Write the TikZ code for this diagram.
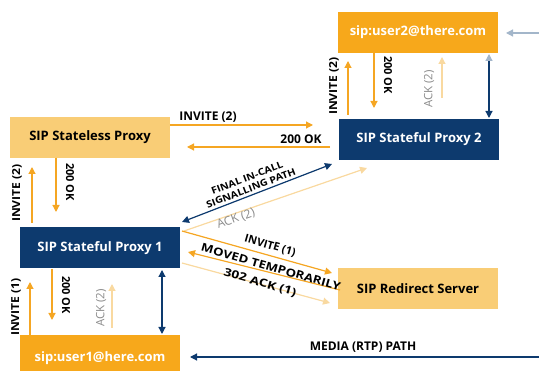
\documentclass[tikz,border=0pt]{standalone}
\usepackage{fontspec}
\setmainfont{Open Sans}
\usetikzlibrary{arrows.meta}
\definecolor{navy}{HTML}{0D3A6E}
\definecolor{org}{HTML}{F7A81B}
\definecolor{lorg}{HTML}{F9CD76}
\definecolor{aorg}{HTML}{F5A623}
\definecolor{porg}{HTML}{F9D9A0}
\definecolor{lblue}{HTML}{A3B6CA}
\definecolor{gtxt}{HTML}{8A8A8A}
\newcommand{\fsz}[1]{\fontsize{#1}{#1}\selectfont}
\tikzset{
  box/.style={minimum width=160pt,minimum height=41pt,inner sep=0pt,font=\bfseries\fsz{13}},
  navybox/.style={box,fill=navy,text=white},
  orgbox/.style={box,fill=org,text=white},
  lbox/.style={box,fill=lorg,text=black},
  tip/.style={-{Triangle[length=7pt,width=7pt]}},
  oarr/.style={tip,draw=aorg,fill=aorg,line width=1.2pt},
  parr/.style={tip,draw=porg,fill=porg,line width=1.2pt},
  narr/.style={{Triangle[length=7pt,width=7pt]}-{Triangle[length=7pt,width=7pt]},draw=navy,fill=navy,line width=1.2pt},
  hl/.style={font=\bfseries\fsz{12},inner sep=0pt,text=black},
  vl/.style={font=\bfseries\fsz{11},inner sep=0pt,text=black},
  gl/.style={font=\fsz{11.5},inner sep=0pt,text=gtxt},
  dl/.style={font=\bfseries\fsz{11},inner sep=0pt,text=black},
}
\begin{document}
\begin{tikzpicture}[x=1pt,y=-1pt]
\useasboundingbox (0,0) rectangle (539,371);
% boxes
\node[orgbox] (u2) at (418,32.5) {sip:user2@there.com};
\node[lbox] (slp) at (90,137.5) {SIP Stateless Proxy};
\node[navybox] (sp2) at (419,139.5) {SIP Stateful Proxy 2};
\node[navybox] (sp1) at (100,248) {SIP Stateful Proxy 1};
\node[lbox] (rs) at (418,289) {SIP Redirect Server};
\fill[org] (20,335) rectangle (180,371);
\node[box,minimum height=0pt,text=white] (u1) at (100,358) {sip:user1@here.com};
% horizontal between stateless and SP2
\coordinate (h1s) at (170,125); \coordinate (h1e) at (313,125);
\draw[oarr] (h1s) -- (h1e);
\node[hl] (l1) at (208,117) {INVITE (2)};
\coordinate (h2s) at (330,147); \coordinate (h2e) at (187,147);
\draw[oarr] (h2s) -- (h2e);
\node[hl] (l2) at (301,139) {200 OK};
% SP2 <-> user2
\coordinate (a1s) at (348,115); \coordinate (a1e) at (348,61);
\draw[oarr] (a1s) -- (a1e);
\node[vl,rotate=90,xscale=1.1] (l3) at (334,86) {INVITE (2)};
\coordinate (a2s) at (374,53); \coordinate (a2e) at (374,108);
\draw[oarr] (a2s) -- (a2e);
\node[vl,rotate=-90] (l4) at (388,75) {200 OK};
\coordinate (a3s) at (442,98); \coordinate (a3e) at (442,57);
\draw[parr] (a3s) -- (a3e);
\node[gl,rotate=90] (l5) at (429,89) {ACK (2)};
\coordinate (a4s) at (489,54); \coordinate (a4e) at (489,118);
\draw[line width=1.2pt,draw=navy,{Triangle[length=7pt,width=7pt,color=lblue]}-{Triangle[length=7pt,width=7pt,color=navy]}] (a4s) -- (a4e);
\coordinate (a5s) at (539,33); \coordinate (a5e) at (506,33);
\draw[tip,draw=lblue,fill=lblue,line width=1.2pt] (a5s) -- (a5e);
% stateless <-> SP1
\coordinate (b1s) at (56,158); \coordinate (b1e) at (56,212);
\draw[oarr] (b1s) -- (b1e);
\node[vl,rotate=-90] (l6) at (70,182) {200 OK};
\coordinate (b2s) at (32,223); \coordinate (b2e) at (32,167);
\draw[oarr] (b2s) -- (b2e);
\node[vl,rotate=90,xscale=1.1] (l7) at (17,193) {INVITE (2)};
% SP1 <-> user1
\coordinate (c1s) at (30,335); \coordinate (c1e) at (30,282);
\draw[oarr] (c1s) -- (c1e);
\node[vl,rotate=90,xscale=1.1] (l8) at (16,307) {INVITE (1)};
\coordinate (c2s) at (52,269); \coordinate (c2e) at (52,320);
\draw[oarr] (c2s) -- (c2e);
\node[vl,rotate=-90] (l9) at (66,295) {200 OK};
\coordinate (c3s) at (112,328); \coordinate (c3e) at (112,284);
\draw[parr] (c3s) -- (c3e);
\node[gl,rotate=90] (l10) at (101,308) {ACK (2)};
\coordinate (c4s) at (162,270); \coordinate (c4e) at (162,334);
\draw[narr] (c4s) -- (c4e);
% media
\coordinate (m1s) at (539,357); \coordinate (m1e) at (190,357);
\draw[tip,draw=navy,fill=navy,line width=1.2pt] (m1s) -- (m1e);
\node[hl] (l11) at (363,347) {MEDIA (RTP) PATH};
% diagonals SP1 <-> SP2
\coordinate (d1s) at (182,222); \coordinate (d1e) at (332,164);
\draw[narr] (d1s) -- (d1e);
\node[rotate=21,xscale=1.12,align=center,font=\bfseries\fontsize{9.5}{11}\selectfont,inner sep=0pt] (l12) at (249,183) {FINAL IN-CALL\\SIGNALLING PATH};
\coordinate (d2s) at (184,231); \coordinate (d2e) at (367,168);
\draw[parr] (d2s) -- (d2e);
\node[gl,rotate=20,font=\fsz{12}] (l13) at (236,219) {ACK (2)};
% SP1 <-> redirect
\coordinate (e1s) at (182,231); \coordinate (e1e) at (332,273);
\draw[oarr] (e1s) -- (e1e);
\node[dl,rotate=-16] (l14) at (270,246) {INVITE (1)};
\coordinate (e2s) at (340,290); \coordinate (e2e) at (188,252);
\draw[oarr] (e2s) -- (e2e);
\node[dl,rotate=-16,xscale=1.2] (l15) at (271,267) {MOVED TEMPORARILY};
\coordinate (e3s) at (182,263); \coordinate (e3e) at (330,303);
\draw[parr] (e3s) -- (e3e);
\node[dl,rotate=-16,xscale=1.25] (l16) at (260,283) {302 ACK (1)};
\end{tikzpicture}
\end{document}
